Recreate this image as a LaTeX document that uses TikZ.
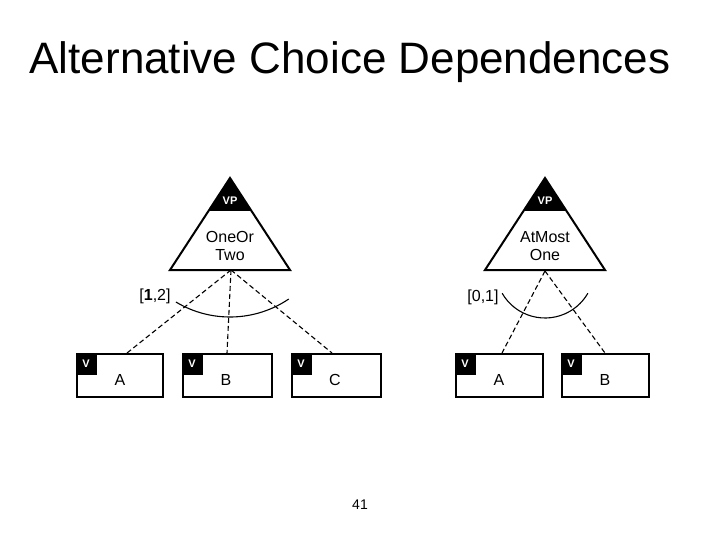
\documentclass[tikz,border=0pt]{standalone}
\usepackage{fontspec}
\setmainfont{Liberation Sans}
\begin{document}
\begin{tikzpicture}[x=1pt,y=-1pt,
  box/.style={draw,line width=2pt,fill=white},
  dline/.style={draw,dash pattern=on 5pt off 3pt,line width=1.1pt},
  lbl/.style={font=\fontsize{16}{18}\selectfont},
  vtag/.style={text=white,font=\bfseries\fontsize{11}{12}\selectfont}]
\useasboundingbox (0,0) rectangle (720,540);
\node (title) at (350,62) {\fontsize{44}{48}\selectfont Alternative Choice Dependences};
\node (pg) at (360,505) {\fontsize{14}{16}\selectfont 41};
% left triangle
\fill (230,178) -- (208.5,211) -- (251.5,211) -- cycle;
\draw[line width=2pt] (230,178) -- (170,270) -- (290,270) -- cycle;
\node[vtag] (vp1) at (230,201) {VP};
\node[lbl,align=center,inner sep=0pt] (t1) at (230,246) {OneOr\\Two};
\coordinate (o1) at (231,270);
% right triangle
\fill (545,178) -- (523.5,211) -- (566.5,211) -- cycle;
\draw[line width=2pt] (545,178) -- (485,270) -- (605,270) -- cycle;
\node[vtag] (vp2) at (545,201) {VP};
\node[lbl,align=center,inner sep=0pt] (t2) at (545,246) {AtMost\\One};
\coordinate (o2) at (545,271);
% boxes
\foreach \n/\x/\w/\t in {a1/77/86/A,b1/183/89/B,c1/292/89/C,a2/456/87/A,b2/562/87/B}{
  \draw[box] (\x,354) rectangle ++(\w,43);
  \fill (\x,354) rectangle ++(20,21);
  \node[vtag] at (\x+9,364) {V};
  \node[lbl] (\n) at (\x+43,380) {\t};
}
\coordinate (pa1) at (127,353);
\coordinate (pb1) at (227,353);
\coordinate (pc1) at (332,353);
\coordinate (pa2) at (502,353);
\coordinate (pb2) at (605,353);
\draw[dline] (o1) -- (pa1);
\draw[dline] (o1) -- (pb1);
\draw[dline] (o1) -- (pc1);
\draw[dline] (o2) -- (pa2);
\draw[dline] (o2) -- (pb2);
\draw[line width=1.1pt] (230,212) ++(121:105) arc[start angle=121,end angle=56,radius=105];
\draw[line width=1.1pt] (545,268.5) ++(150:49.5) arc[start angle=150,end angle=30,radius=49.5];
\node[lbl] (r1) at (155,296) {[\textbf{1},2]};
\node[lbl] (r2) at (483,297) {[0,1]};
\end{tikzpicture}
\end{document}
